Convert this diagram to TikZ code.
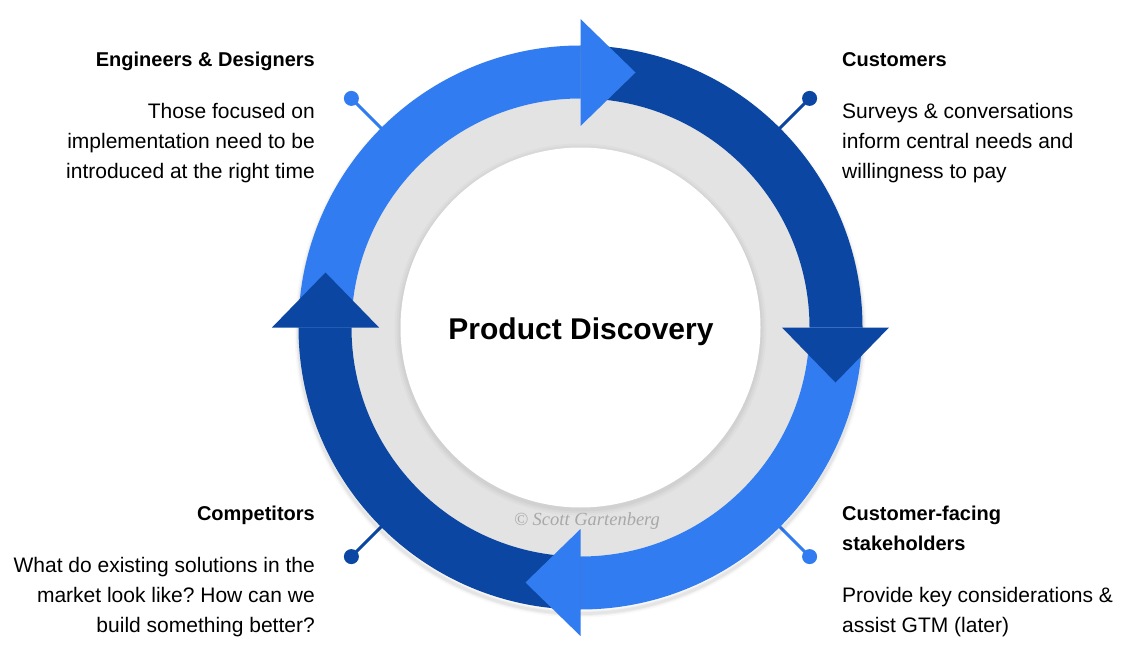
\documentclass[tikz,border=0pt]{standalone}
\usepackage{fontspec}
\setmainfont{Liberation Sans}
\newfontfamily\wmfont{Liberation Serif}
\usetikzlibrary{calc}
\frenchspacing
\definecolor{lightb}{HTML}{317CF0}
\definecolor{darkb}{HTML}{0B47A2}
\definecolor{ringgray}{HTML}{E3E3E3}
\definecolor{wmgray}{HTML}{A8A8A8}
\tikzset{
  body/.style={font=\fontsize{21}{30}\selectfont, inner sep=0pt},
  head/.style={font=\bfseries\fontsize{20}{30}\selectfont, inner sep=0pt},
  pindot/.style={circle, inner sep=0pt, minimum size=15pt},
  pinline/.style={line width=3pt},
}
\begin{document}
\begin{tikzpicture}[x=1pt,y=1pt]
\useasboundingbox (0,0) rectangle (1124,-668);
\fill[white] (0,0) rectangle (1124,-668);
\coordinate (C) at (580.5,-327.5);
% pins
\node[pindot, fill=lightb] (p1) at ($(C)+(135:324)$) {};
\node[pindot, fill=darkb]  (p2) at ($(C)+(45:324)$) {};
\node[pindot, fill=lightb] (p3) at ($(C)+(-45:324)$) {};
\node[pindot, fill=darkb]  (p4) at ($(C)+(-135:324)$) {};
\coordinate (r1) at ($(C)+(135:270)$);
\coordinate (r2) at ($(C)+(45:270)$);
\coordinate (r3) at ($(C)+(-45:270)$);
\coordinate (r4) at ($(C)+(-135:270)$);
\draw[pinline, lightb] (p1.center) -- (r1);
\draw[pinline, darkb]  (p2.center) -- (r2);
\draw[pinline, lightb] (p3.center) -- (r3);
\draw[pinline, darkb]  (p4.center) -- (r4);
% soft shadow
\foreach \w/\o in {8/0.025,5/0.035,3/0.045}{
  \draw[black, opacity=\o, line width=\w pt] ($(C)+(0,-4)$) circle[radius=282];
}
% gray ring
\fill[ringgray] (C) circle[radius=229];
\foreach \r/\o in {186/0.02,184/0.025,182/0.03}{
  \fill[black, opacity=\o] ($(C)+(0,-2)$) circle[radius=\r];
}
\fill[white] (C) circle[radius=180];
% bands
\foreach \s/\e/\col in {180/90/lightb, 90/0/darkb, 0/-90/lightb, -90/-180/darkb}{
  \fill[\col] ($(C)+(\s:282)$) arc[start angle=\s, end angle=\e, radius=282]
    -- ($(C)+(\e:229)$) arc[start angle=\e, end angle=\s, radius=229] -- cycle;
}
% heads
\foreach \a/\col in {90/lightb, 0/darkb, -90/lightb, -180/darkb}{
  \fill[\col] ($(C)+(\a:308.5)$) -- ($(C)+(\a:255)+(\a-90:55)$) -- ($(C)+(\a:201.5)$) -- cycle;
}
% texts
\node[font=\bfseries\fontsize{30}{36}\selectfont, inner sep=0pt] (title) at (581,-332) {Product Discovery};
\node[font=\wmfont\itshape\fontsize{18.5}{22}\selectfont, text=wmgray, inner sep=0pt] (wm) at (587,-521) {\textcopyright\ Scott Gartenberg};

\node[head, anchor=base east] (t1) at (315,-67) {Engineers \& Designers};
\node[body, anchor=base east, align=right] (b1) at (315,-179) {Those focused on\\implementation need to be\\introduced at the right time};

\node[head, anchor=base west] (t2) at (842,-67) {Customers};
\node[body, anchor=base west, align=left] (b2) at (842,-179) {Surveys \& conversations\\inform central needs and\\willingness to pay};

\node[head, anchor=base west, align=left] (t3) at (842,-550) {Customer-facing\\stakeholders};
\node[body, anchor=base west, align=left] (b3) at (842,-632) {Provide key considerations \&\\assist GTM (later)};

\node[head, anchor=base east] (t4) at (315,-520) {Competitors};
\node[body, anchor=base east, align=right] (b4) at (315,-632) {What do existing solutions in the\\market look like? How can we\\build something better?};
\end{tikzpicture}
\end{document}
